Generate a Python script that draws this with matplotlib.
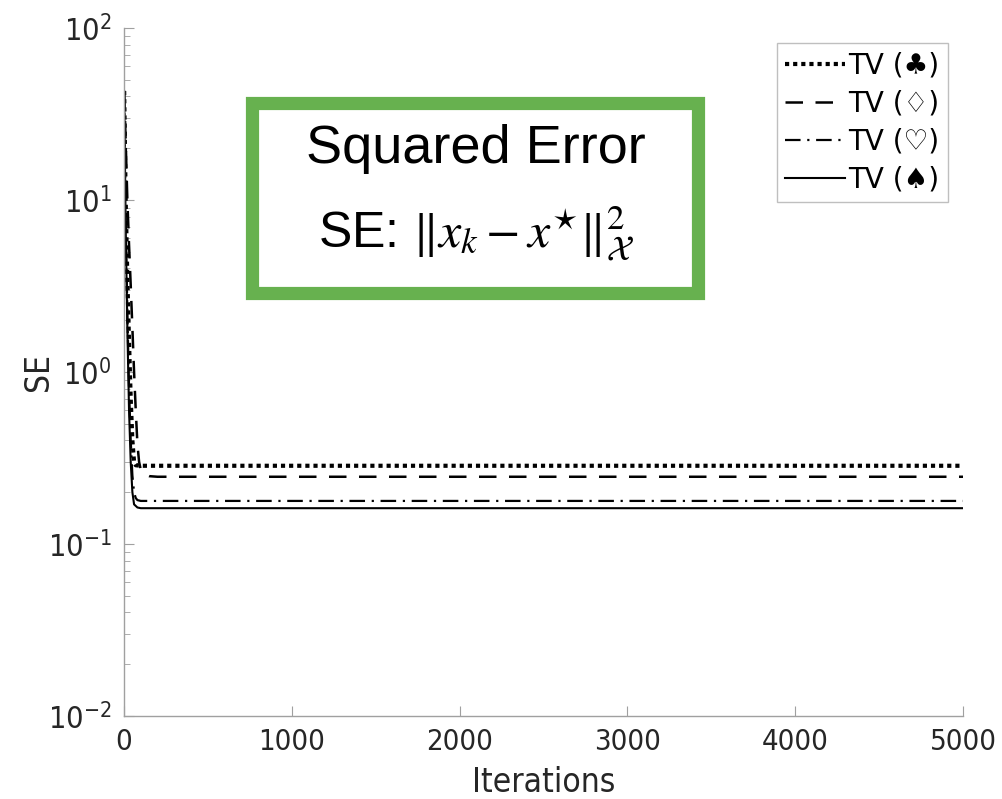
import matplotlib
matplotlib.use("Agg")
import matplotlib.pyplot as plt
import matplotlib.patches as mpatches
from matplotlib.ticker import LogLocator, NullFormatter, FixedLocator

plt.rcParams['mathtext.fontset'] = 'stix'

# ---- data ----
it_club = [1, 10, 20, 30, 40, 50, 60, 70, 100, 5000]
se_club = [43, 10, 3.5, 1.5, 0.7, 0.4, 0.30, 0.287, 0.285, 0.285]

it_diam = [1, 10, 20, 30, 40, 50, 60, 70, 80, 90, 100, 120, 150, 200, 5000]
se_diam = [43, 22, 10, 5.5, 3.2, 1.8, 1.0, 0.6, 0.38, 0.30, 0.27, 0.255, 0.248, 0.246, 0.246]

it_heart = [1, 10, 20, 30, 40, 50, 60, 70, 80, 100, 5000]
se_heart = [43, 8, 2.2, 0.8, 0.4, 0.25, 0.20, 0.185, 0.18, 0.178, 0.178]

it_spade = [1, 10, 20, 30, 40, 50, 60, 80, 100, 5000]
se_spade = [43, 7, 1.8, 0.6, 0.3, 0.2, 0.17, 0.163, 0.1615, 0.1615]

labels = ['TV (\u2663)', 'TV (\u2662)', 'TV (\u2661)', 'TV (\u2660)']
x_ticks = [0, 1000, 2000, 3000, 4000, 5000]

fig = plt.figure(figsize=(10.02, 7.99), dpi=100)
ax = fig.add_axes([124/1002, 1-716/799, (963-124)/1002, (716-28)/799])

ax.plot(it_club, se_club, color='black', lw=3.0, ls=(0, (1, 0.95)), label=labels[0])
ax.plot(it_diam, se_diam, color='black', lw=1.8, ls=(0, (7, 5)), label=labels[1])
ax.plot(it_heart, se_heart, color='black', lw=1.6, ls=(0, (7, 3, 1, 3)), label=labels[2])
ax.plot(it_spade, se_spade, color='black', lw=1.5, ls='-', label=labels[3])

ax.set_yscale('log')
ax.set_ylim(1e-2, 1e2)
ax.set_xlim(0, 5000)
ax.xaxis.set_major_locator(FixedLocator(x_ticks))
ax.yaxis.set_major_locator(LogLocator(base=10, numticks=10))
ax.yaxis.set_minor_locator(LogLocator(base=10, subs=range(2, 10), numticks=20))
ax.yaxis.set_minor_formatter(NullFormatter())

for s in ['top', 'right']:
    ax.spines[s].set_visible(False)
for s in ['left', 'bottom']:
    ax.spines[s].set_color('#a0a0a0')
    ax.spines[s].set_linewidth(1.0)

tc = '#262626'
ax.tick_params(axis='both', which='major', direction='in', length=7, color='#a0a0a0',
               labelsize=21, labelcolor=tc)
ax.tick_params(axis='x', which='major', pad=9)
ax.tick_params(axis='y', which='major', pad=9)
ax.tick_params(axis='y', which='minor', direction='in', length=4, color='#a0a0a0')
fig.canvas.draw()
for lab in ax.get_xticklabels():
    lab.set_fontstretch('condensed')
for lab in ax.get_yticklabels():
    lab.set_fontstretch('condensed')
    lab.set_fontsize(22)

ax.set_xlabel('Iterations', fontsize=24, color=tc, labelpad=7, fontstretch='condensed')
ax.set_ylabel('SE', fontsize=24, color=tc, labelpad=-5, fontstretch='condensed')

leg = ax.legend(loc='upper right', bbox_to_anchor=(948/1002, 1-43/799),
                bbox_transform=fig.transFigure, frameon=True,
                fancybox=False, handlelength=2.15, handletextpad=0.12,
                borderpad=0.3, labelspacing=0.36, borderaxespad=0,
                prop={'family': ['DejaVu Sans'], 'size': 20})
leg.get_frame().set_edgecolor('#b0b0b0')
leg.get_frame().set_linewidth(1.0)

# green annotation box
green = '#67b14f'
x0, x1 = 252/1002, 698/1002
y0, y1 = 1-293/799, 1-103/799
rect = mpatches.Rectangle((x0, y0), x1-x0, y1-y0, transform=fig.transFigure,
                          facecolor='white', edgecolor=green, linewidth=9.5, zorder=5)
fig.add_artist(rect)
fig.text(476/1002, 1-163/799, 'Squared Error', fontsize=39, family='Liberation Sans',
         ha='center', va='baseline', zorder=6)
fig.text(476/1002, 1-247/799, r'SE: $\|x_k - x^{\star}\|_{\mathcal{X}}^{2}$', fontsize=36,
         family='Liberation Sans', ha='center', va='baseline', zorder=6)

fig.savefig('out.png', dpi=100)
